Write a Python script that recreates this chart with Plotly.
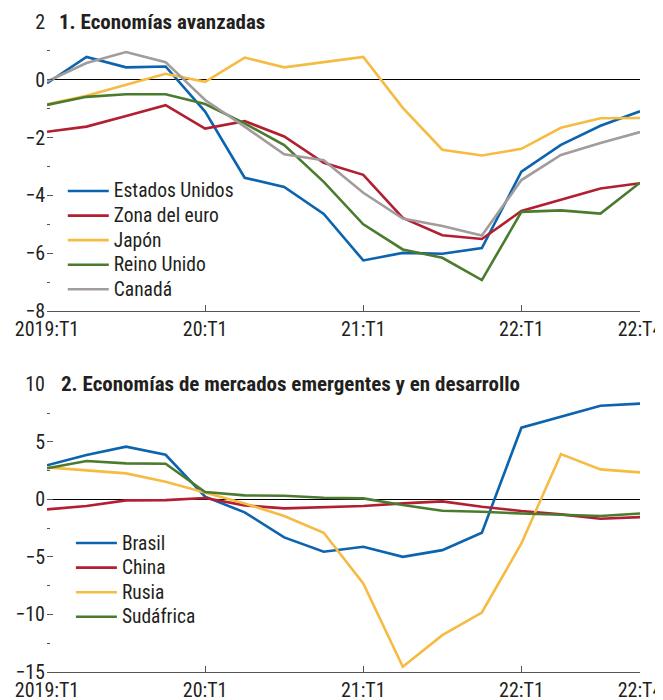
import plotly.graph_objects as go

quarters = list(range(16))
tick_positions = [0, 4, 8, 12, 15]
tick_labels = ["2019:T1", "20:T1", "21:T1", "22:T1", "22:T4"]

# Panel 1: Economías avanzadas
estados_unidos = [-0.12, 0.79, 0.43, 0.46, -1.10, -3.39, -3.71, -4.64,
                  -6.25, -5.99, -6.02, -5.82, -3.18, -2.25, -1.59, -1.09]
zona_euro = [-1.80, -1.62, -1.25, -0.88, -1.69, -1.43, -1.96, -2.87,
             -3.29, -4.78, -5.38, -5.51, -4.54, -4.16, -3.76, -3.58]
japon = [-0.85, -0.55, -0.17, 0.21, -0.07, 0.77, 0.43, 0.62,
         0.79, -0.97, -2.42, -2.62, -2.39, -1.66, -1.33, -1.32]
reino_unido = [-0.87, -0.59, -0.50, -0.50, -0.84, -1.51, -2.26, -3.53,
               -5.00, -5.87, -6.16, -6.93, -4.57, -4.52, -4.63, -3.56]
canada = [-0.06, 0.58, 0.96, 0.61, -0.70, -1.62, -2.58, -2.78,
          -3.91, -4.80, -5.06, -5.39, -3.47, -2.60, -2.19, -1.81]

# Panel 2: Economías de mercados emergentes y en desarrollo
brasil = [2.96, 3.86, 4.58, 3.88, 0.23, -1.13, -3.30, -4.55,
          -4.12, -4.99, -4.41, -2.90, 6.23, 7.19, 8.14, 8.32]
china = [-0.87, -0.58, -0.09, -0.06, 0.12, -0.52, -0.78, -0.67,
         -0.58, -0.35, -0.17, -0.64, -1.01, -1.30, -1.68, -1.54]
rusia = [2.78, 2.52, 2.26, 1.54, 0.58, -0.35, -1.45, -2.90,
         -7.30, -14.55, -11.80, -9.83, -3.83, 3.94, 2.61, 2.35]
sudafrica = [2.70, 3.33, 3.13, 3.10, 0.64, 0.35, 0.32, 0.14,
             0.09, -0.49, -0.99, -1.07, -1.22, -1.36, -1.45, -1.22]

BLUE = "#0b64ad"
RED = "#b11f31"
YELLOW = "#f6bb42"
GREEN = "#4b7b2f"
GRAY = "#a29c9c"
TXT = "#231f20"
FONT = "Roboto Condensed, Liberation Sans Narrow, Arial Narrow, DejaVu Sans Condensed, sans-serif"
TEXT_SIZE = 20

fig = go.Figure()

panel1 = [("Estados Unidos", estados_unidos, BLUE), ("Zona del euro", zona_euro, RED),
          ("Japón", japon, YELLOW), ("Reino Unido", reino_unido, GREEN),
          ("Canadá", canada, GRAY)]
panel2 = [("Brasil", brasil, BLUE), ("China", china, RED),
          ("Rusia", rusia, YELLOW), ("Sudáfrica", sudafrica, GREEN)]

def label(name):
    return f"<span style='font-size:{TEXT_SIZE - 0.5}px'>{name}</span>"

for name, vals, col in panel1:
    fig.add_trace(go.Scatter(x=quarters, y=vals, mode="lines", name=label(name),
                             line=dict(color=col, width=2.6), xaxis="x", yaxis="y",
                             legend="legend"))
for name, vals, col in panel2:
    fig.add_trace(go.Scatter(x=quarters, y=vals, mode="lines", name=label(name),
                             line=dict(color=col, width=2.6), xaxis="x2", yaxis="y2",
                             legend="legend2"))

xcommon = dict(range=[0, 15], tickvals=tick_positions, ticktext=tick_labels,
               ticks="inside", ticklen=6, tickcolor="#555", showline=True,
               linecolor="#555", linewidth=1, showgrid=False, zeroline=False,
               automargin=False,
               tickfont=dict(size=TEXT_SIZE, color=TXT, family=FONT))

def ycommon(rng, dmaj, dmin, dom):
    return dict(range=rng, dtick=dmaj, tick0=0, domain=dom, ticks="inside", ticklen=6,
                tickcolor="#555", showgrid=False, showline=False, automargin=False,
                zeroline=True, zerolinecolor="#000", zerolinewidth=1,
                ticklabelstandoff=1,
                tickfont=dict(size=TEXT_SIZE, color=TXT, family=FONT),
                minor=dict(dtick=dmin, tick0=0, ticks="inside", ticklen=3,
                           tickcolor="#555", showgrid=False))

def yright(rng, d, over, anchor):
    return dict(range=rng, dtick=d, tick0=0, overlaying=over, anchor=anchor, side="right",
                ticks="inside", ticklen=7, tickcolor="#555", showticklabels=False,
                showgrid=False, showline=False, zeroline=False, automargin=False)

top_dom = [0.5554, 1.0]
bot_dom = [0.0, 0.4426]

legend_common = dict(xanchor="left", yanchor="top", bgcolor="rgba(0,0,0,0)",
                     font=dict(size=16.6, color=TXT, family=FONT), itemwidth=41,
                     tracegroupgap=0)

# The page adds an 8px body margin, so the figure is drawn 8px smaller and offset
fig.update_layout(
    width=655, height=692,
    margin=dict(l=39, r=23, t=14, b=28),
    paper_bgcolor="white", plot_bgcolor="white",
    font=dict(family=FONT, color=TXT, size=TEXT_SIZE),
    xaxis=dict(**xcommon, anchor="y"),
    xaxis2=dict(**xcommon, anchor="y2"),
    yaxis=dict(**ycommon([-8, 2], 2, 1, top_dom), anchor="x"),
    yaxis2=dict(**ycommon([-15, 10], 5, 2.5, bot_dom), anchor="x2"),
    yaxis3=yright([-8, 2], 1, "y", "x"),
    yaxis4=yright([-15, 10], 2.5, "y2", "x2"),
    legend=dict(x=0.0266, y=0.7666, **legend_common),
    legend2=dict(x=0.0403, y=0.225, **legend_common),
    showlegend=True,
)

fig.add_annotation(text="<b>1. Economías avanzadas</b>", xref="paper", yref="y domain",
                   x=0.017, y=1.0, xanchor="left", yanchor="middle", showarrow=False,
                   font=dict(size=21, color=TXT, family=FONT))
fig.add_annotation(text="<b>2. Economías de mercados emergentes y en desarrollo</b>",
                   xref="paper", yref="y2 domain", x=0.0206, y=1.0, xanchor="left",
                   yanchor="middle", showarrow=False,
                   font=dict(size=21, color=TXT, family=FONT))

fig.write_html("out.html")
